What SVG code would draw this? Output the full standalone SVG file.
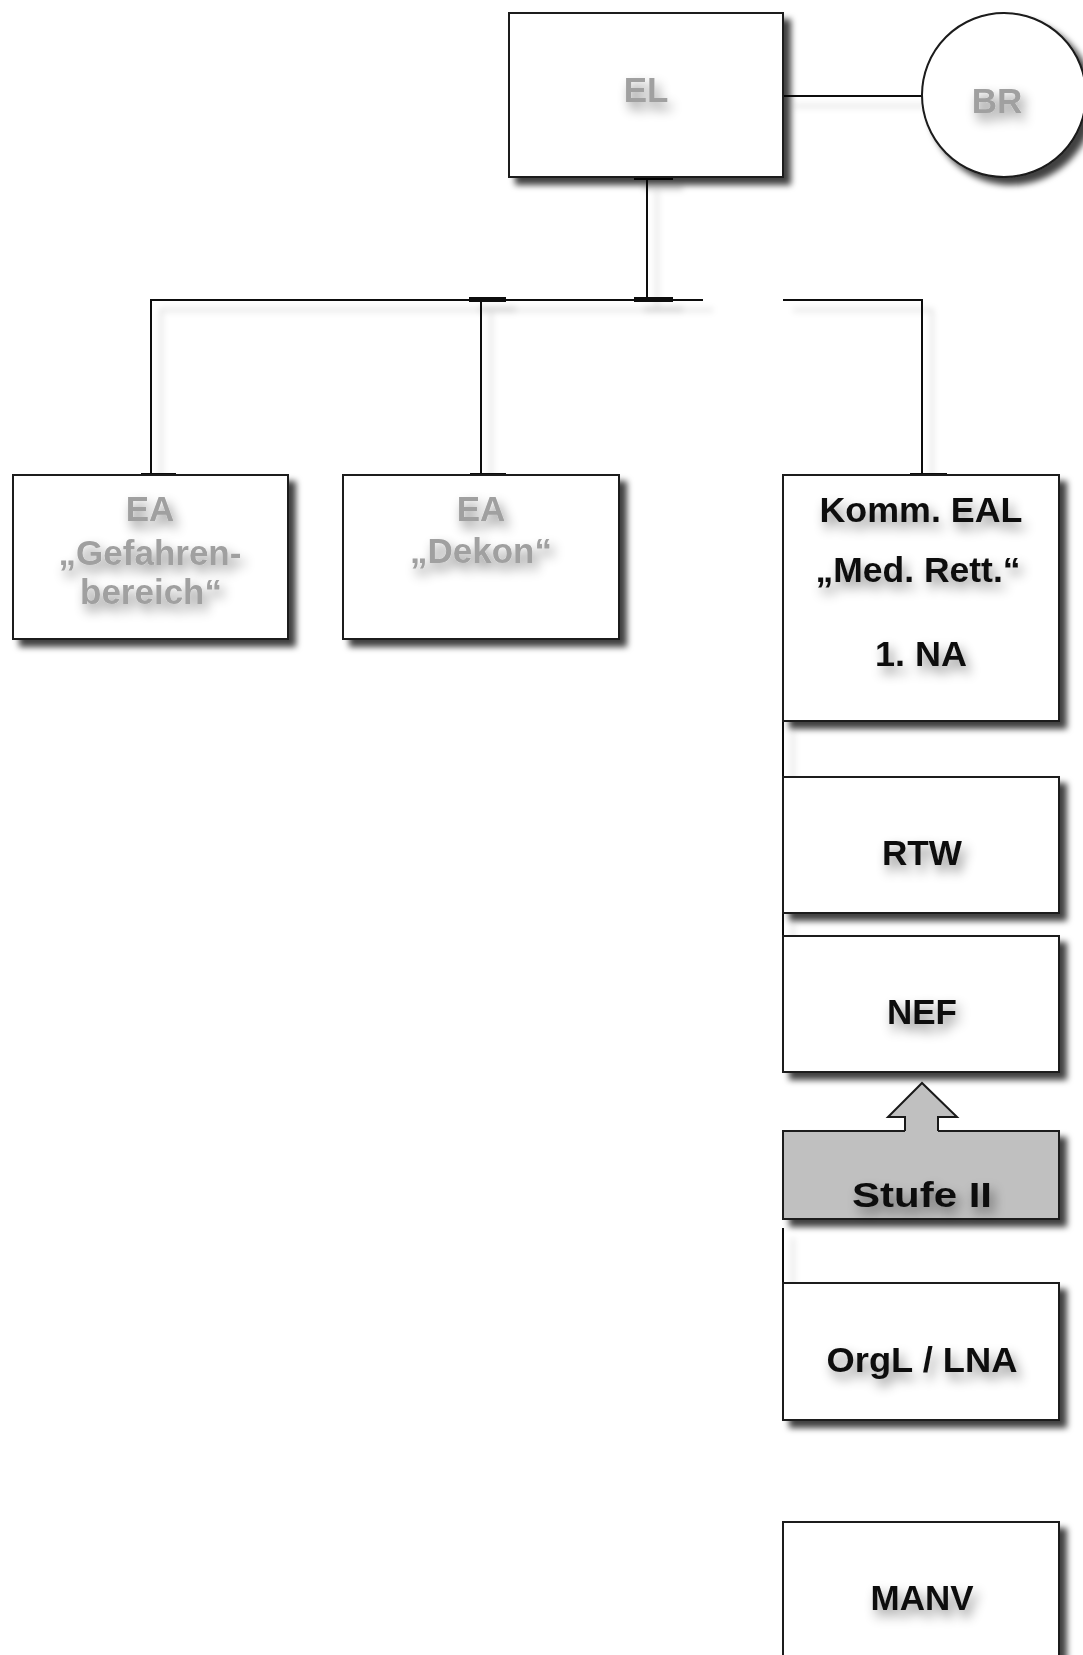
<svg xmlns="http://www.w3.org/2000/svg" width="1083" height="1655" viewBox="0 0 1083 1655">
<defs>
<filter id="boxShadow" x="-10%" y="-10%" width="130%" height="130%">
<feDropShadow dx="7" dy="7" stdDeviation="3" flood-color="#000" flood-opacity="0.75"/>
</filter>
<filter id="lineShadow" filterUnits="userSpaceOnUse" x="0" y="0" width="1083" height="1655">
<feDropShadow dx="10" dy="10" stdDeviation="3" flood-color="#000" flood-opacity="0.18"/>
</filter>
<filter id="textShadow" x="-40%" y="-80%" width="180%" height="260%">
<feGaussianBlur in="SourceAlpha" stdDeviation="6" result="b"/>
<feOffset dx="4" dy="7" in="b" result="o"/>
<feFlood flood-color="#000" flood-opacity="0.45"/>
<feComposite in2="o" operator="in" result="s"/>
<feMerge><feMergeNode in="s"/><feMergeNode in="SourceGraphic"/></feMerge>
</filter>
<style>
.box{fill:#fff;stroke:#1a1a1a;stroke-width:2;filter:url(#boxShadow)}
.gbox{fill:#c0c0c0;stroke:#1a1a1a;stroke-width:2;filter:url(#boxShadow)}
.lbl{font-family:"Liberation Sans",Arial,sans-serif;font-weight:bold;font-size:35px;text-anchor:middle;fill:#111;filter:url(#textShadow)}
.glbl{font-family:"Liberation Sans",Arial,sans-serif;font-weight:bold;font-size:35px;text-anchor:middle;fill:#a0a0a0;filter:url(#textShadow)}
.conn{fill:none;stroke:#111;stroke-width:2}
.bar{fill:#111}
</style>
</defs>
<rect width="1083" height="1655" fill="#fff"/>

<g id="connectors" filter="url(#lineShadow)">
<line class="conn" x1="783" y1="96" x2="922" y2="96"/>
<line class="conn" x1="647" y1="177" x2="647" y2="300"/>
<polyline class="conn" points="151,475 151,300 703,300"/>
<line class="conn" x1="481" y1="300" x2="481" y2="475"/>
<polyline class="conn" points="783,300 922,300 922,475"/>
<line class="conn" x1="783" y1="721" x2="783" y2="777"/>
<line class="conn" x1="783" y1="913" x2="783" y2="936"/>
<line class="conn" x1="783" y1="1228" x2="783" y2="1283"/>
<rect class="bar" x="634" y="175" width="39" height="5"/>
<rect class="bar" x="634" y="297" width="39" height="5"/>
<rect class="bar" x="469" y="297" width="37" height="5"/>
<rect class="bar" x="141" y="473" width="35" height="5"/>
<rect class="bar" x="470" y="473" width="36" height="5"/>
<rect class="bar" x="910" y="473" width="37" height="5"/>
</g>

<g id="EL">
<rect class="box" x="509" y="13" width="274" height="164"/>
<text class="glbl" x="646" y="102" font-size="37">EL</text>
</g>

<g id="BR">
<circle cx="1004" cy="95" r="82" fill="#fff" stroke="#1a1a1a" stroke-width="2" filter="url(#boxShadow)"/>
<text class="glbl" x="997" y="113">BR</text>
</g>

<g id="EA-Gefahrenbereich">
<rect class="box" x="13" y="475" width="275" height="164"/>
<text class="glbl" x="150" y="521">EA</text>
<text class="glbl" x="150" y="565">„Gefahren-</text>
<text class="glbl" x="151" y="604">bereich“</text>
</g>

<g id="EA-Dekon">
<rect class="box" x="343" y="475" width="276" height="164"/>
<text class="glbl" x="481" y="521">EA</text>
<text class="glbl" x="481" y="563">„Dekon“</text>
</g>

<g id="Komm-EAL">
<rect class="box" x="783" y="475" width="276" height="246"/>
<text class="lbl" x="921" y="522" textLength="203" lengthAdjust="spacingAndGlyphs">Komm. EAL</text>
<text class="lbl" x="918" y="582" textLength="205" lengthAdjust="spacingAndGlyphs">„Med. Rett.“</text>
<text class="lbl" x="921" y="666" textLength="92" lengthAdjust="spacingAndGlyphs">1. NA</text>
</g>

<g id="RTW">
<rect class="box" x="783" y="777" width="276" height="136"/>
<text class="lbl" x="922" y="865" textLength="80" lengthAdjust="spacingAndGlyphs">RTW</text>
</g>

<g id="NEF">
<rect class="box" x="783" y="936" width="276" height="136"/>
<text class="lbl" x="922" y="1024" textLength="70" lengthAdjust="spacingAndGlyphs">NEF</text>
</g>

<g id="Stufe-II">
<rect class="gbox" x="783" y="1131" width="276" height="88"/>
<polygon points="922,1083 957,1117 938,1117 938,1133 905,1133 905,1117 888,1117" fill="#c0c0c0" stroke="none"/>
<polyline points="905,1131 905,1117 888,1117 922,1083 957,1117 938,1117 938,1131" fill="none" stroke="#1a1a1a" stroke-width="2" stroke-linejoin="miter"/>
<text class="lbl" x="922" y="1207" font-size="40" textLength="140" lengthAdjust="spacingAndGlyphs">Stufe II</text>
</g>

<g id="OrgL-LNA">
<rect class="box" x="783" y="1283" width="276" height="137"/>
<text class="lbl" x="922" y="1372" textLength="191" lengthAdjust="spacingAndGlyphs">OrgL / LNA</text>
</g>

<g id="MANV">
<rect class="box" x="783" y="1522" width="276" height="145"/>
<text class="lbl" x="922" y="1610" textLength="103" lengthAdjust="spacingAndGlyphs">MANV</text>
</g>
</svg>
